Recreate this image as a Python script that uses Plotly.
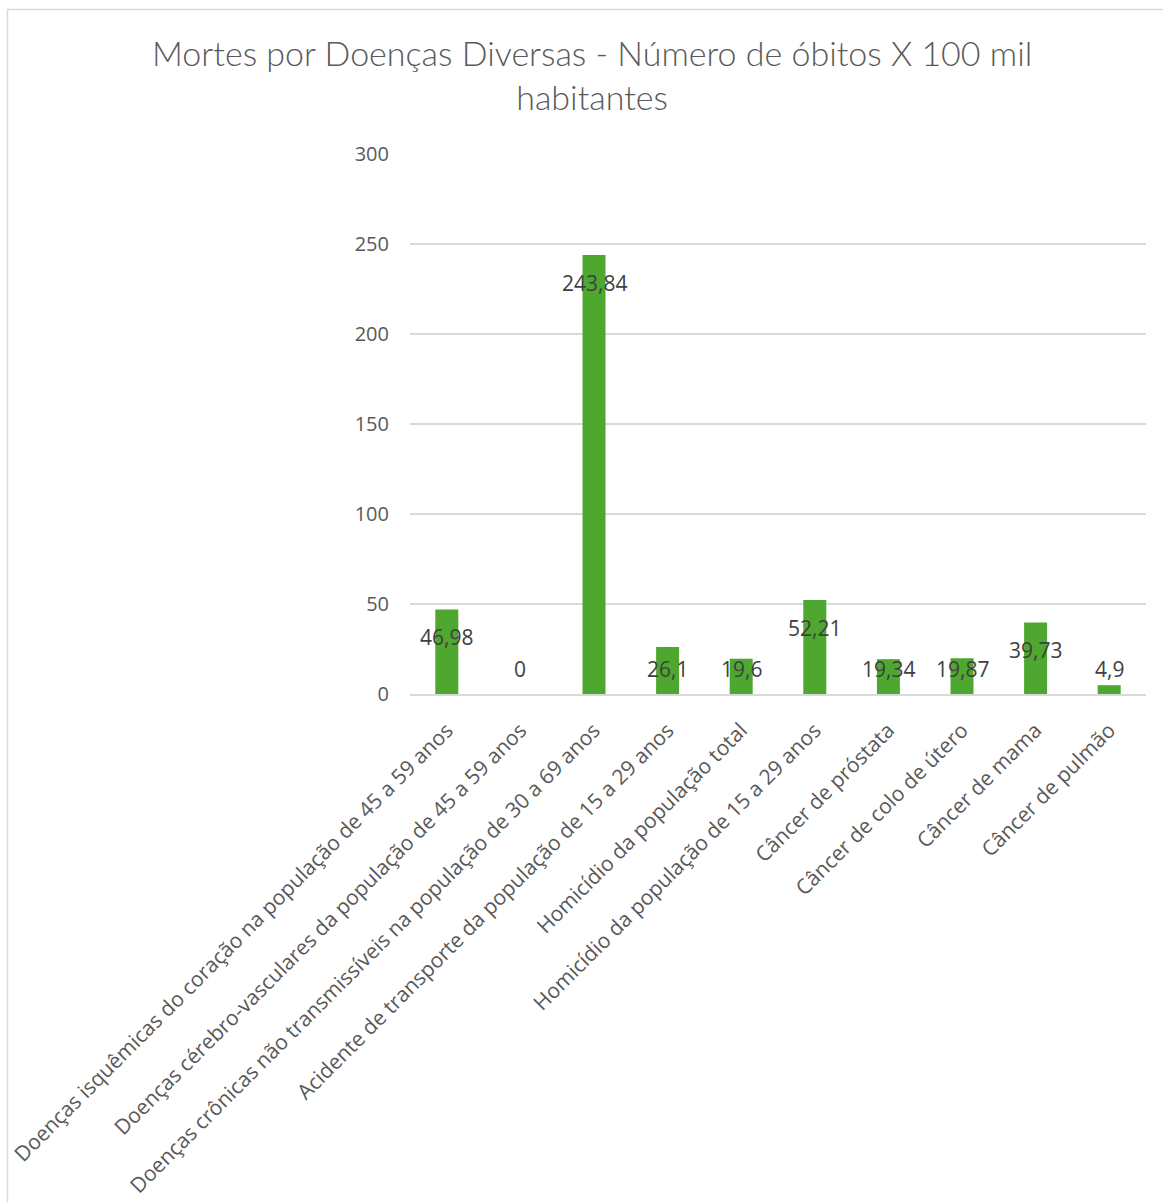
import plotly.graph_objects as go

# Indicators and their rates (deaths per 100 thousand inhabitants)
categories = [
    "Doenças isquêmicas do coração na população de 45 a 59 anos",
    "Doenças cérebro-vasculares da população de 45 a 59 anos",
    "Doenças crônicas não transmissíveis na população de 30 a 69 anos",
    "Acidente de transporte da população de 15 a 29 anos",
    "Homicídio da população total",
    "Homicídio da população de 15 a 29 anos",
    "Câncer de próstata",
    "Câncer de colo de útero",
    "Câncer de mama",
    "Câncer de pulmão",
]
values = [46.98, 0, 243.84, 26.1, 19.6, 52.21, 19.34, 19.87, 39.73, 4.9]
y_ticks = [0, 50, 100, 150, 200, 250, 300]

title_text = "Mortes por Doenças Diversas - Número de óbitos X 100 mil<br>habitantes"

GREEN = "#4EA72E"
GRID = "#D9D9D9"
TEXT = "#595959"
LABEL = "#404040"
FONT = "Open Sans, sans-serif"

W, H = 1163, 1202
ML, MR, MT, MB = 410, 17, 154, 508
plot_w = W - ML - MR
plot_h = H - MT - MB
px_per_unit = plot_h / (y_ticks[-1] - y_ticks[0])


def fmt(v):
    s = f"{v:.2f}".rstrip("0").rstrip(".")
    return s.replace(".", ",")


fig = go.Figure(
    go.Bar(
        x=list(range(len(categories))),
        y=values,
        marker=dict(color=GREEN, line=dict(width=0)),
        hoverinfo="skip",
    )
)

# Value labels placed just inside the top of each column
label_offset = 28 / px_per_unit
label_floor = 25 / px_per_unit
for i, v in enumerate(values):
    fig.add_annotation(
        x=i, y=max(v - label_offset, label_floor),
        xref="x", yref="y",
        text=fmt(v), showarrow=False,
        xanchor="center", yanchor="middle",
        font=dict(family=FONT, size=21, color=LABEL),
    )

# Chart title (two lines), centred over the chart frame
fig.add_annotation(
    x=(592 - ML) / plot_w, y=(H - MB - 75) / plot_h,
    xref="paper", yref="paper",
    text=title_text, showarrow=False,
    xanchor="center", yanchor="middle", align="center",
    font=dict(family="Lato, Open Sans, sans-serif", size=34, color=TEXT, weight=300),
)

# Light chart-area frame
fig.add_shape(
    type="rect", xref="paper", yref="paper",
    x0=(7.5 - ML) / plot_w, x1=(W + 20 - ML) / plot_w,
    y0=-(MB + 20) / plot_h, y1=(H - MB - 9.5) / plot_h,
    line=dict(color=GRID, width=1.5), fillcolor="rgba(0,0,0,0)", layer="below",
)

fig.update_layout(
    width=W, height=H,
    margin=dict(l=ML, r=MR, t=MT, b=MB, autoexpand=False),
    paper_bgcolor="white", plot_bgcolor="white",
    bargap=1 - 23 / (plot_w / len(categories)),
    showlegend=False,
    xaxis=dict(
        range=[-0.5, len(categories) - 0.5],
        tickmode="array", tickvals=list(range(len(categories))), ticktext=categories,
        tickangle=-45, showgrid=False, zeroline=False,
        showline=True, linecolor=GRID, linewidth=1.5,
        ticks="", automargin=False, ticklabelstandoff=14,
        tickfont=dict(family=FONT, size=21, color=TEXT),
    ),
    yaxis=dict(
        range=[y_ticks[0], y_ticks[-1]],
        tickmode="array", tickvals=y_ticks, ticktext=[str(t) for t in y_ticks],
        showgrid=True, gridcolor=GRID, gridwidth=1.5,
        zeroline=False, showline=False, ticks="",
        ticklabelstandoff=20, automargin=False,
        tickfont=dict(family=FONT, size=20, color=TEXT),
    ),
)

fig.write_html("out.html")
